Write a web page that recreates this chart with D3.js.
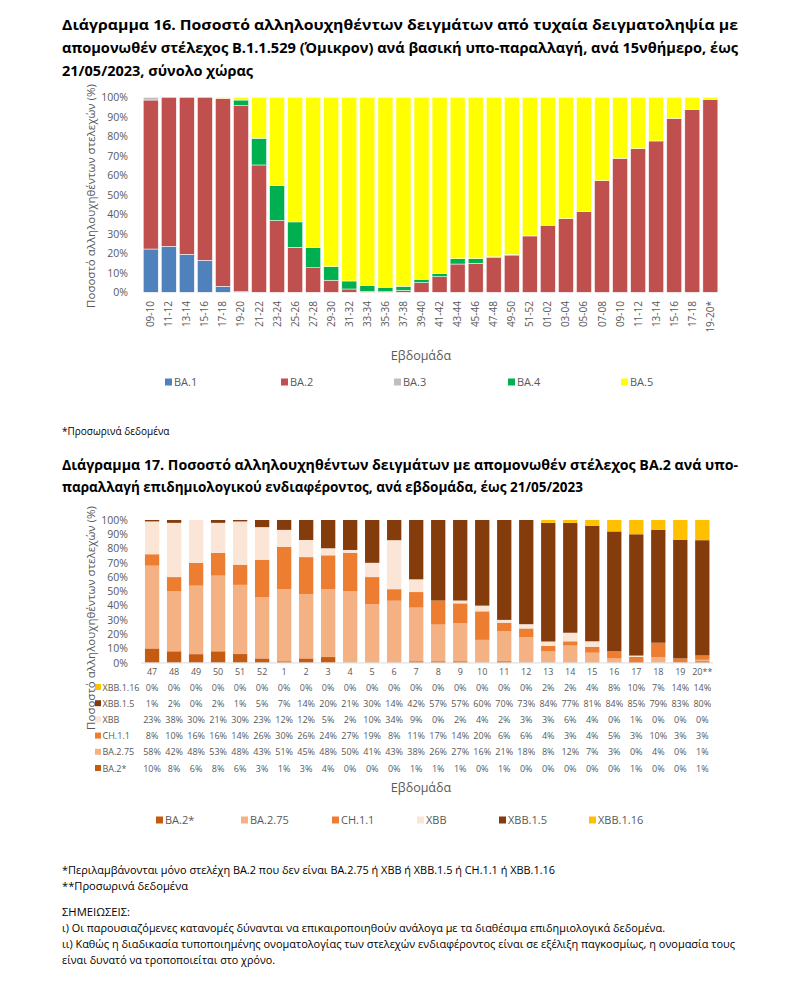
<!DOCTYPE html>
<html><head><meta charset="utf-8">
<script src="https://cdn.jsdelivr.net/npm/d3@7"></script>
<style>
body{margin:0;background:#fff;}
svg text{font-family:'Liberation Sans Narrow','Open Sans',sans-serif;}
</style></head>
<body>
<svg id="c" width="800" height="983"></svg>
<script>
// ---------- Chart 16 data ----------
const periods16 = ["09-10","11-12","13-14","15-16","17-18","19-20","21-22","23-24","25-26","27-28","29-30","31-32","33-34","35-36","37-38","39-40","41-42","43-44","45-46","47-48","49-50","51-52","01-02","03-04","05-06","07-08","09-10","11-12","13-14","15-16","17-18","19-20*"];
const series16 = ["BA.1","BA.2","BA.3","BA.4","BA.5"];
const BA1 = [22.2,23.6,19.5,16.4,3.1,0.3,0,0,0,0,0,0,0,0,0,0,0,0,0,0,0,0,0,0,0,0,0,0,0,0,0,0];
const BA2 = [76.4,76.4,80.5,83.6,96.4,95.4,65.3,36.8,23.1,12.6,6.2,1.7,0.4,0.3,1.0,5.0,8.0,14.5,14.9,17.8,19.1,28.9,34.4,37.8,41.4,57.3,68.7,73.7,77.6,89.2,93.8,99.0];
const BA3 = [1.4,0,0,0,0,0,0,0,0,0,0,0,0,0,0,0,0,0,0,0,0,0,0,0,0,0,0,0,0,0,0,0];
const BA4 = [0,0,0,0,0,2.9,13.7,17.9,13.0,10.3,7.0,4.1,3.2,2.3,2.1,1.7,1.6,2.7,2.4,0.4,0.3,0.3,0,0,0,0,0,0,0,0,0,0];
const BA5 = [0,0,0,0,0.5,1.4,21.0,45.3,63.9,77.1,86.8,94.2,96.4,97.4,96.9,93.3,90.4,82.8,82.7,81.8,80.6,70.8,65.6,62.2,58.6,42.7,31.3,26.3,22.4,10.8,6.2,1.0];
const colors16 = ["#4F81BD","#C0504D","#BFBFBF","#00B050","#FFFF00"];

// ---------- Chart 17 data ----------
const weeks17 = ["47","48","49","50","51","52","1","2","3","4","5","6","7","8","9","10","11","12","13","14","15","16","17","18","19","20**"];
const series17 = ["BA.2*","BA.2.75","CH.1.1","XBB","XBB.1.5","XBB.1.16"];
const BA2star = [10,8,6,8,6,3,1,3,4,0,0,0,1,1,1,0,1,0,0,0,0,0,1,0,0,1];
const BA275 = [58,42,48,53,48,43,51,45,48,50,41,43,38,26,27,16,21,18,8,12,7,3,0,4,0,1];
const CH11 = [8,10,16,16,14,26,30,26,24,27,19,8,11,17,14,20,6,6,4,3,4,5,3,10,3,3];
const XBB = [23,38,30,21,30,23,12,12,5,2,10,34,9,0,2,4,2,3,3,6,4,0,1,0,0,0];
const XBB15 = [1,2,0,2,1,5,7,14,20,21,30,14,42,57,57,60,70,73,84,77,81,84,85,79,83,80];
const XBB116 = [0,0,0,0,0,0,0,0,0,0,0,0,0,0,0,0,0,0,2,2,4,8,10,7,14,14];
const colors17 = ["#C55A11","#F4B183","#ED7D31","#FBE5D6","#843C0C","#FFC000"];
const yTicks = [0,0.1,0.2,0.3,0.4,0.5,0.6,0.7,0.8,0.9,1];

const svg = d3.select("#c");
const grey = "#595959";
const fmtPct = d3.format(".0%");

function textLine(x,y,str,opts){
  const t = svg.append("text").attr("x",x).attr("y",y).text(str)
    .attr("font-size",opts.size||11).attr("fill",opts.fill||"#000")
    .attr("font-weight",opts.bold?"bold":"normal");
  if(opts.width){t.attr("textLength",opts.width).attr("lengthAdjust","spacingAndGlyphs");}
  if(opts.anchor) t.attr("text-anchor",opts.anchor);
  return t;
}

// ---------- Titles ----------
textLine(62,30,"Διάγραμμα 16. Ποσοστό αλληλουχηθέντων δειγμάτων από τυχαία δειγματοληψία με",{size:14.5,bold:true,width:676});
textLine(62,53,"απομονωθέν στέλεχος B.1.1.529 (Όμικρον) ανά βασική υπο-παραλλαγή, ανά 15νθήμερο, έως",{size:14.5,bold:true,width:676});
textLine(62,76,"21/05/2023, σύνολο χώρας",{size:14.5,bold:true,width:191});

// ---------- Chart 16 ----------
{
  const x = d3.scaleBand().domain(d3.range(periods16.length)).range([141.8,719.3]).paddingInner(0.17).paddingOuter(0.08);
  const y = d3.scaleLinear().domain([0,1]).range([292.3,97.3]);
  const rows = periods16.map((p,i)=>({i, "BA.1":BA1[i],"BA.2":BA2[i],"BA.3":BA3[i],"BA.4":BA4[i],"BA.5":BA5[i]}));
  const stack = d3.stack().keys(series16).offset(d3.stackOffsetExpand)(rows);
  const g = svg.append("g");
  stack.forEach((s,k)=>{
    g.selectAll(null).data(s).join("rect")
      .attr("x",d=>x(d.data.i)).attr("width",x.bandwidth())
      .attr("y",d=>y(d[1])).attr("height",d=>Math.max(0,y(d[0])-y(d[1])))
      .attr("fill",colors16[k]).attr("stroke","#fff").attr("stroke-width",0.5);
  });
  const ya = d3.axisLeft(y).tickValues(yTicks).tickFormat(fmtPct).tickSize(0).tickPadding(0);
  const ag = svg.append("g").attr("transform","translate(128,0)").call(ya);
  ag.select(".domain").remove();
  ag.selectAll("text").attr("fill",grey).attr("font-size",10.5).attr("font-family","'Liberation Sans Narrow','Open Sans',sans-serif");
  const xa = d3.axisBottom(x).tickFormat(i=>periods16[i]).tickSize(0).tickPadding(0);
  const xg = svg.append("g").attr("transform","translate(0,299)").call(xa);
  xg.select(".domain").remove();
  xg.selectAll("text").attr("fill",grey).attr("font-size",10).attr("font-family","'Liberation Sans Narrow','Open Sans',sans-serif")
    .attr("transform","rotate(-90)").attr("text-anchor","end").attr("x",0).attr("y",0).attr("dx","-0.2em").attr("dy","0.35em")
    .attr("transform","rotate(-90)");
  svg.append("text").attr("transform","translate(95,196) rotate(-90)").attr("text-anchor","middle")
    .attr("font-size",11.5).attr("fill",grey).text("Ποσοστό αλληλουχηθέντων στελεχών (%)");
  svg.append("text").attr("x",421).attr("y",360).attr("text-anchor","middle").attr("font-size",12.5).attr("fill",grey).text("Εβδομάδα");
  const lx = [165,281,394,508,621];
  series16.forEach((s,k)=>{
    svg.append("rect").attr("x",lx[k]).attr("y",378.5).attr("width",7).attr("height",7).attr("fill",colors16[k]);
    svg.append("text").attr("x",lx[k]+9).attr("y",386).attr("font-size",11).attr("fill",grey).text(s);
  });
}
textLine(62,435,"*Προσωρινά δεδομένα",{size:10,fill:"#000"});

// ---------- Title 17 ----------
textLine(62,470,"Διάγραμμα 17. Ποσοστό αλληλουχηθέντων δειγμάτων με απομονωθέν στέλεχος BA.2 ανά υπο-",{size:14.5,bold:true,width:676});
textLine(62,492,"παραλλαγή επιδημιολογικού ενδιαφέροντος, ανά εβδομάδα, έως 21/05/2023",{size:14.5,bold:true,width:521});

// ---------- Chart 17 ----------
{
  const x = d3.scaleBand().domain(d3.range(weeks17.length)).range([141.2,713.2]).paddingInner(0.35).paddingOuter(0.17);
  const y = d3.scaleLinear().domain([0,1]).range([662.7,520]);
  const vals = {"BA.2*":BA2star,"BA.2.75":BA275,"CH.1.1":CH11,"XBB":XBB,"XBB.1.5":XBB15,"XBB.1.16":XBB116};
  const rows = weeks17.map((w,i)=>{const o={i}; series17.forEach(s=>o[s]=vals[s][i]); return o;});
  const stack = d3.stack().keys(series17).offset(d3.stackOffsetExpand)(rows);
  const g = svg.append("g");
  stack.forEach((s,k)=>{
    g.selectAll(null).data(s).join("rect")
      .attr("x",d=>x(d.data.i)).attr("width",x.bandwidth())
      .attr("y",d=>y(d[1])).attr("height",d=>Math.max(0,y(d[0])-y(d[1])))
      .attr("fill",colors17[k]);
  });
  svg.append("line").attr("x1",141).attr("x2",713).attr("y1",662.9).attr("y2",662.9).attr("stroke","#D9D9D9").attr("stroke-width",1);
  const ya = d3.axisLeft(y).tickValues(yTicks).tickFormat(fmtPct).tickSize(0).tickPadding(0);
  const ag = svg.append("g").attr("transform","translate(128,0)").call(ya);
  ag.select(".domain").remove();
  ag.selectAll("text").attr("fill",grey).attr("font-size",10.5).attr("font-family","'Liberation Sans Narrow','Open Sans',sans-serif");
  // table header
  const cx = i=>x(i)+x.bandwidth()/2;
  weeks17.forEach((w,i)=>{
    svg.append("text").attr("x",cx(i)).attr("y",675).attr("text-anchor","middle").attr("font-size",9).attr("fill",grey).text(w);
  });
  const tableOrder = ["XBB.1.16","XBB.1.5","XBB","CH.1.1","BA.2.75","BA.2*"];
  tableOrder.forEach((s,r)=>{
    const yy = 688 + r*16.2;
    const k = series17.indexOf(s);
    svg.append("rect").attr("x",95).attr("y",yy-4).attr("width",6).attr("height",6).attr("fill",colors17[k]);
    svg.append("text").attr("x",102.5).attr("y",yy+2.5).attr("font-size",9).attr("fill",grey).text(s);
    vals[s].forEach((v,i)=>{
      svg.append("text").attr("x",cx(i)).attr("y",yy+2.5).attr("text-anchor","middle").attr("font-size",9).attr("fill",grey).text(v+"%");
    });
  });
  svg.append("text").attr("transform","translate(95,618) rotate(-90)").attr("text-anchor","middle")
    .attr("font-size",11.5).attr("fill",grey).text("Ποσοστό αλληλουχηθέντων στελεχών (%)");
  svg.append("text").attr("x",421).attr("y",792).attr("text-anchor","middle").attr("font-size",12.5).attr("fill",grey).text("Εβδομάδα");
  const lx = [156,241,332,417,499,589];
  series17.forEach((s,k)=>{
    svg.append("rect").attr("x",lx[k]).attr("y",816.5).attr("width",7).attr("height",7).attr("fill",colors17[k]);
    svg.append("text").attr("x",lx[k]+9).attr("y",824).attr("font-size",11).attr("fill",grey).text(s);
  });
}

// ---------- Notes ----------
textLine(62,874,"*Περιλαμβάνονται μόνο στελέχη BA.2 που δεν είναι BA.2.75 ή XBB ή XBB.1.5 ή CH.1.1 ή XBB.1.16",{size:10.5,width:493});
textLine(62,890,"**Προσωρινά δεδομένα",{size:10.5,width:126});
textLine(62,916,"ΣΗΜΕΙΩΣΕΙΣ:",{size:10.5,width:68});
textLine(62,932,"ι) Οι παρουσιαζόμενες κατανομές δύνανται να επικαιροποιηθούν ανάλογα με τα διαθέσιμα επιδημιολογικά δεδομένα.",{size:10.5,width:603});
textLine(62,948,"ιι) Καθώς η διαδικασία τυποποιημένης ονοματολογίας των στελεχών ενδιαφέροντος είναι σε εξέλιξη παγκοσμίως, η ονομασία τους",{size:10.5,width:673});
textLine(62,964,"είναι δυνατό να τροποποιείται στο χρόνο.",{size:10.5,width:213});
</script>
</body></html>
